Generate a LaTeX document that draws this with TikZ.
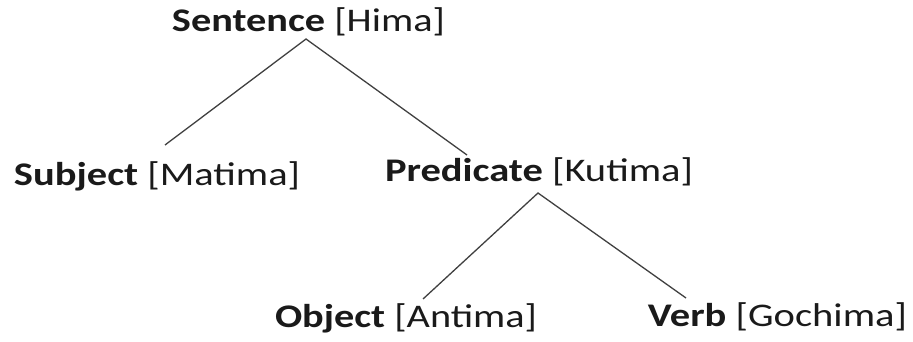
\documentclass[tikz,border=0pt]{standalone}
\usepackage{fontspec}
\setmainfont{Carlito}
\usepackage{graphicx}
\definecolor{inkgray}{HTML}{1A1A1A}
\definecolor{linegray}{HTML}{404040}
% label: bold category followed by its bracketed name, set to a given width
\newcommand{\treelabel}[3]{\resizebox{#1}{\height}{\textbf{#2} [#3]}}
\begin{document}
\begin{tikzpicture}[x=1pt,y=1pt,
  word/.style={anchor=base, inner sep=0pt, text=inkgray, font=\fontsize{33}{36}\selectfont},
  branch/.style={draw=linegray, line width=1.3pt}]
\useasboundingbox (0,0) rectangle (913,341);

\node[word] (sent) at (308.5,309) {\treelabel{273pt}{Sentence}{Hima}};
\node[word] (subj) at (157,156)   {\treelabel{286pt}{Subject}{Matima}};
\node[word] (pred) at (539,160)   {\treelabel{308pt}{Predicate}{Kutima}};
\node[word] (obj)  at (406,14)    {\treelabel{262pt}{Object}{Antima}};
\node[word] (verb) at (777.5,15)  {\treelabel{259pt}{Verb}{Gochima}};

\draw[branch] ([shift={(8,40)}]subj.base) -- ([shift={(-2.5,-7)}]sent.base)
              -- ([shift={(-72,26)}]pred.base);
\draw[branch] ([shift={(17,28)}]obj.base) -- ([shift={(-1,-12)}]pred.base)
              -- ([shift={(-91.5,28)}]verb.base);
\end{tikzpicture}
\end{document}
